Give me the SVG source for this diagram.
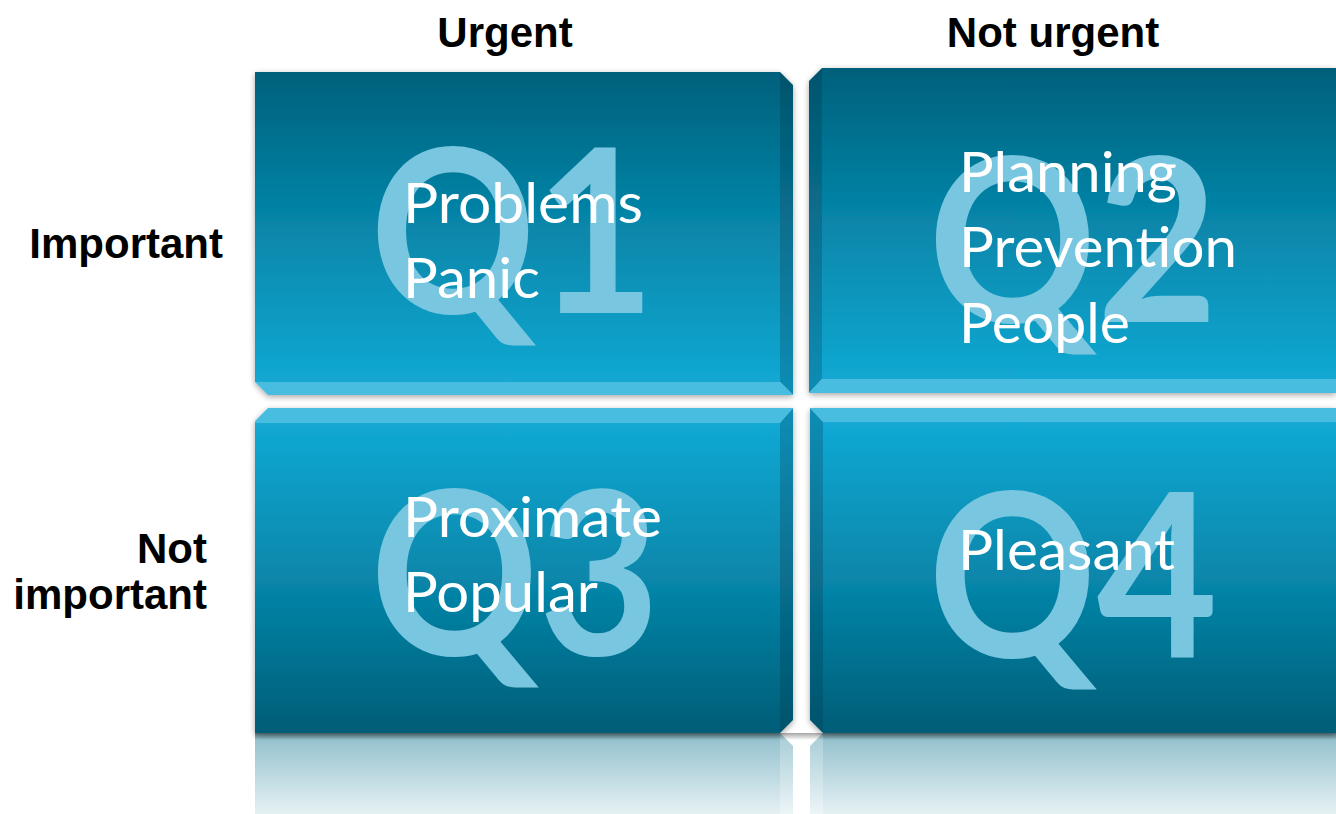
<svg xmlns="http://www.w3.org/2000/svg" width="1336" height="814" viewBox="0 0 1336 814">
  <defs>
    <!-- face gradients: top row darkens upward, bottom row darkens downward -->
    <linearGradient id="faceTop" x1="0" y1="0" x2="0" y2="1">
      <stop offset="0" stop-color="#00607b"/>
      <stop offset="0.45" stop-color="#0683a6"/>
      <stop offset="1" stop-color="#12a8d2"/>
    </linearGradient>
    <linearGradient id="faceBottom" x1="0" y1="0" x2="0" y2="1">
      <stop offset="0" stop-color="#12a9d4"/>
      <stop offset="0.55" stop-color="#0683a6"/>
      <stop offset="1" stop-color="#005d77"/>
    </linearGradient>
    <linearGradient id="sideTop" x1="0" y1="0" x2="0" y2="1">
      <stop offset="0" stop-color="#03546c"/>
      <stop offset="1" stop-color="#0d8db5"/>
    </linearGradient>
    <linearGradient id="sideBottom" x1="0" y1="0" x2="0" y2="1">
      <stop offset="0" stop-color="#0d8db5"/>
      <stop offset="1" stop-color="#02536b"/>
    </linearGradient>
    <linearGradient id="mirror" x1="0" y1="0" x2="0" y2="1">
      <stop offset="0" stop-color="#8fbecb"/>
      <stop offset="1" stop-color="#e6f1f4"/>
    </linearGradient>
    <linearGradient id="mirrorSide" x1="0" y1="0" x2="0" y2="1">
      <stop offset="0" stop-color="#a6ccd6"/>
      <stop offset="1" stop-color="#edf5f7"/>
    </linearGradient>
    <linearGradient id="seam" x1="0" y1="0" x2="0" y2="1">
      <stop offset="0" stop-color="#000" stop-opacity="0.35"/>
      <stop offset="1" stop-color="#000" stop-opacity="0"/>
    </linearGradient>
    <filter id="shadow" x="-5%" y="-5%" width="110%" height="110%">
      <feGaussianBlur in="SourceAlpha" stdDeviation="3"/>
      <feOffset dx="0" dy="2" result="b"/>
      <feComponentTransfer><feFuncA type="linear" slope="0.35"/></feComponentTransfer>
      <feMerge><feMergeNode/><feMergeNode in="SourceGraphic"/></feMerge>
    </filter>
  </defs>
  <style>
    .hdr { font-family: "Liberation Sans", Arial, sans-serif; font-weight: bold; font-size: 42px; fill: #000; }
    .big { font-family: Lato, "Open Sans", sans-serif; font-weight: bold; font-size: 228px; fill: #78c6df; }
    .item { font-family: Lato, "Open Sans", sans-serif; font-size: 56px; fill: #ffffff; }
    .lip { fill: #48bde0; }
  </style>

  <rect width="1336" height="814" fill="#ffffff"/>

  <!-- reflections under the bottom row -->
  <g id="reflection">
    <rect x="255" y="733" width="525" height="81" fill="url(#mirror)"/>
    <polygon points="780,733 793,746 793,814 780,814" fill="url(#mirrorSide)"/>
    <rect x="823" y="733" width="513" height="81" fill="url(#mirror)"/>
    <polygon points="823,733 810,746 810,814 823,814" fill="url(#mirrorSide)"/>
    <rect x="255" y="733" width="1081" height="7" fill="url(#seam)"/>
  </g>

  <!-- Q1: urgent and important -->
  <g id="q1" filter="url(#shadow)">
    <rect x="255" y="72" width="525" height="310" fill="url(#faceTop)"/>
    <polygon points="780,72 793,85 793,395 780,382" fill="url(#sideTop)"/>
    <polygon points="255,382 780,382 793,395 268,395" class="lip"/>
    <text class="big" x="370" y="313" textLength="285" lengthAdjust="spacingAndGlyphs">Q1</text>
    <text class="item" x="403" y="223" textLength="240" lengthAdjust="spacingAndGlyphs">Problems</text>
    <text class="item" x="403" y="298" textLength="137" lengthAdjust="spacingAndGlyphs">Panic</text>
  </g>

  <!-- Q2: not urgent but important -->
  <g id="q2" filter="url(#shadow)">
    <rect x="822" y="68" width="514" height="311" fill="url(#faceTop)"/>
    <polygon points="822,68 809,81 809,393 822,379" fill="url(#sideTop)"/>
    <polygon points="822,379 1336,379 1336,393 809,393" class="lip"/>
    <text class="big" x="928" y="322" textLength="290" lengthAdjust="spacingAndGlyphs">Q2</text>
    <text class="item" x="959" y="192" textLength="218" lengthAdjust="spacingAndGlyphs">Planning</text>
    <text class="item" x="959" y="267" textLength="278" lengthAdjust="spacingAndGlyphs">Prevention</text>
    <text class="item" x="959" y="343" textLength="171" lengthAdjust="spacingAndGlyphs">People</text>
  </g>

  <!-- Q3: urgent but not important -->
  <g id="q3" filter="url(#shadow)">
    <rect x="255" y="423" width="525" height="310" fill="url(#faceBottom)"/>
    <polygon points="268,408 793,408 780,423 255,423 255,421" class="lip"/>
    <polygon points="793,408 793,720 780,733 780,423" fill="url(#sideBottom)"/>
    <text class="big" x="370" y="655" textLength="290" lengthAdjust="spacingAndGlyphs">Q3</text>
    <text class="item" x="403" y="537" textLength="259" lengthAdjust="spacingAndGlyphs">Proximate</text>
    <text class="item" x="403" y="612" textLength="195" lengthAdjust="spacingAndGlyphs">Popular</text>
  </g>

  <!-- Q4: neither urgent nor important -->
  <g id="q4" filter="url(#shadow)">
    <rect x="823" y="422" width="513" height="311" fill="url(#faceBottom)"/>
    <polygon points="810,408 1336,408 1336,422 823,422" class="lip"/>
    <polygon points="810,408 823,422 823,733 810,720" fill="url(#sideBottom)"/>
    <text class="big" x="928" y="657" textLength="290" lengthAdjust="spacingAndGlyphs">Q4</text>
    <text class="item" x="958" y="570" textLength="217" lengthAdjust="spacingAndGlyphs">Pleasant</text>
  </g>

  <!-- axis headings -->
  <g id="col-urgent"><text class="hdr" x="505" y="47" text-anchor="middle">Urgent</text></g>
  <g id="col-not-urgent"><text class="hdr" x="1053" y="47" text-anchor="middle">Not urgent</text></g>
  <g id="row-important"><text class="hdr" x="223" y="258" text-anchor="end">Important</text></g>
  <g id="row-not-important">
    <text class="hdr" x="207" y="563" text-anchor="end">Not</text>
    <text class="hdr" x="207" y="609" text-anchor="end">important</text>
  </g>
</svg>
